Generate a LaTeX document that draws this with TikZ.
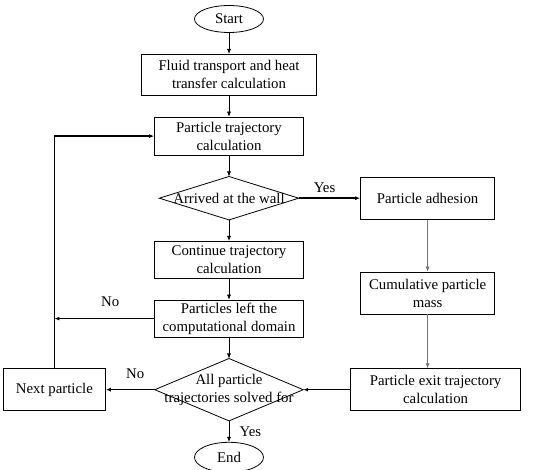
\documentclass[tikz,border=0pt]{standalone}
\usepackage{fontspec}
\setmainfont{Liberation Serif}
\usetikzlibrary{arrows.meta,positioning,shapes.geometric}

\begin{document}
\begin{tikzpicture}[
    x=1pt, y=1pt,
    node distance=21pt,
    every node/.style={font=\fontsize{14.8}{18}\selectfont},
    box/.style={
      draw, line width=0.8pt, align=center,
      inner sep=2pt, minimum height=38pt
    },
    term/.style={draw, ellipse, line width=0.8pt, inner sep=0pt, minimum width=69pt},
    decision/.style={align=center, inner sep=0pt},
    arr/.style={-{Latex[length=5pt,width=4pt]}, line width=0.6pt},
    barr/.style={-{Latex[length=5pt,width=4pt]}, line width=1.5pt},
    garr/.style={-{Latex[length=5pt,width=4pt]}, line width=0.6pt, black!55}
  ]
    \useasboundingbox (0,0) rectangle (550,-470);
    % main column
    \node[term, minimum height=27pt] (start) at (229,-19) {Start};
    \node[box, minimum width=175pt, minimum height=41pt, below=of start] (fluid) {Fluid transport and heat\\transfer calculation};
    \node[box, minimum width=149pt, below=of fluid] (traj) {Particle trajectory\\calculation};
    \node[decision, minimum width=139pt, minimum height=43pt, below=of traj] (wall) {Arrived at the wall};
    \node[box, minimum width=149pt, minimum height=37pt, below=of wall] (cont) {Continue trajectory\\calculation};
    \node[box, minimum width=149pt, minimum height=37pt, below=of cont] (left) {Particles left the\\computational domain};
    \node[decision, minimum width=148pt, minimum height=62pt, below=of left] (solved) {All particle\\trajectories solved for};
    \node[term, minimum height=30pt, below=of solved] (end) {End};
    % side columns
    \node[box, minimum width=134pt, minimum height=42pt, right=61.5pt of wall] (adh) {Particle adhesion};
    \node[box, minimum width=134pt, minimum height=42pt, below=52pt of adh] (mass) {Cumulative particle\\mass};
    \node[box, minimum width=170pt, minimum height=42pt, right=47pt of solved] (exit) {Particle exit trajectory\\calculation};
    \node[box, minimum width=102pt, minimum height=42pt, left=49pt of solved] (next) {Next particle};
    % diamonds
    \draw[line width=0.8pt] (wall.west) -- (wall.north) -- (wall.east) -- (wall.south) -- cycle;
    \draw[line width=0.8pt] (solved.west) -- (solved.north) -- (solved.east) -- (solved.south) -- cycle;
    % connectors
    \draw[arr] (start) -- (fluid);
    \draw[arr] (fluid) -- (traj);
    \draw[arr] (traj) -- (wall.north);
    \draw[arr] (wall.south) -- (cont);
    \draw[arr] (cont) -- (left);
    \draw[arr] (left) -- (solved.north);
    \draw[arr] (solved.south) -- node[right=7pt] (yes2) {Yes} (end);
    \draw[barr] (wall.east) -- node[above=1pt, pos=.42] (yes1) {Yes} (adh);
    \draw[garr] (adh) -- (mass);
    \draw[garr] (mass.south) -- (mass.south |- exit.north);
    \draw[barr] (exit) -- (solved.east);
    \draw[barr] (solved.west) -- node[above=7pt, pos=.4] (no2) {No} (next);
    \draw[barr] (left.west) -- node[above=8pt, pos=.44] (no1) {No} (left.west -| next.north);
    \draw[barr] (next.north) |- (traj.west);
  \end{tikzpicture}
\end{document}
